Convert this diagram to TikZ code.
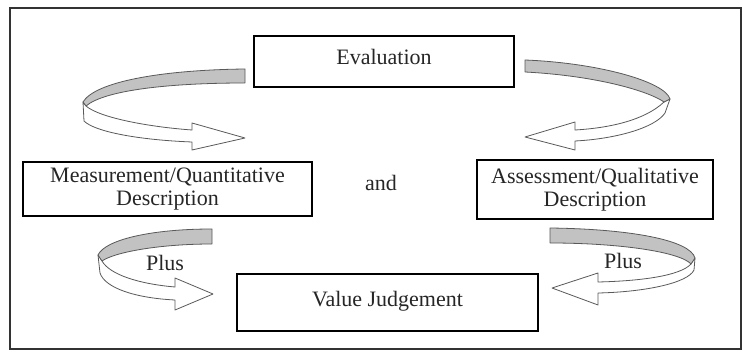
\documentclass[tikz,border=0pt]{standalone}
\usepackage{fontspec}
\setmainfont{Liberation Serif}
\begin{document}
\begin{tikzpicture}[x=1pt,y=-1pt,
  box/.style={draw=black,line width=1.6pt,fill=white,align=center,inner sep=0pt,
    font=\fontsize{22}{22.5}\selectfont,text=black!85},
  lbl/.style={font=\fontsize{22}{22.5}\selectfont,text=black!85,inner sep=0pt},
  back/.style={draw=black!65,line width=0.8pt,fill=black!24,line join=round},
  front/.style={draw=black!65,line width=0.8pt,fill=white,line join=round}]
\useasboundingbox (0,0) rectangle (743,352);
% outer frame
\draw[black!80,line width=1.3pt] (10,8) rectangle (741,349);

% boxes
\node[box,minimum width=260pt,minimum height=51pt,text depth=9pt] (eval) at (384,61.5) {Evaluation};
\node[box,minimum width=289pt,minimum height=54pt] (meas) at (167.5,189) {Measurement/Quantitative\\Description};
\node[box,minimum width=236pt,minimum height=59pt] (assess) at (595,189.5) {Assessment/Qualitative\\Description};
\node[box,minimum width=301pt,minimum height=57pt,text depth=7pt] (value) at (387.5,302.5) {Value Judgement};

\node[lbl] (and) at (381,183) {and};
\node[lbl] (plusl) at (165,263) {Plus};
\node[lbl] (plusr) at (623,261) {Plus};

% ribbon arrow: Evaluation -> Measurement
\path[front] (86,106) .. controls (100,118) and (150,127) .. (192,130)
  -- (192,123) -- (245,138) -- (192,150) -- (192,142)
  .. controls (140,140) and (95,132) .. (84,121) -- (83,102) -- cycle;
\path[back] (245,69) .. controls (160,70) and (95,82) .. (83,102) -- (86,106)
  .. controls (105,90) and (170,83) .. (245,83) -- cycle;

% ribbon arrow: Evaluation -> Assessment
\path[front] (664,102) .. controls (645,120) and (610,128) .. (575,130)
  -- (575,122) -- (525,137) -- (575,150) -- (575,141)
  .. controls (615,139) and (655,128) .. (665,113) -- (670,99) -- cycle;
\path[back] (525,60) .. controls (600,63) and (665,82) .. (670,99) -- (664,102)
  .. controls (650,92) and (600,76) .. (525,72) -- cycle;

% ribbon arrow: Measurement -> Value Judgement
\path[front] (102,261) .. controls (110,275) and (140,284) .. (175,287)
  -- (175,278) -- (213,294) -- (175,310) -- (175,300)
  .. controls (135,298) and (105,288) .. (100,273) -- (98,255) -- cycle;
\path[back] (212,229) .. controls (150,229) and (105,240) .. (98,255) -- (102,261)
  .. controls (115,252) and (160,244) .. (212,244) -- cycle;

% ribbon arrow: Assessment -> Value Judgement
\path[front] (691,264) .. controls (680,276) and (640,281) .. (598,282)
  -- (598,273) -- (552,288) -- (598,305) -- (598,293)
  .. controls (645,292) and (688,283) .. (694,270) -- (695,258) -- cycle;
\path[back] (550,228) .. controls (630,229) and (690,240) .. (695,258) -- (691,264)
  .. controls (680,252) and (620,243) .. (550,243) -- cycle;
\end{tikzpicture}
\end{document}
